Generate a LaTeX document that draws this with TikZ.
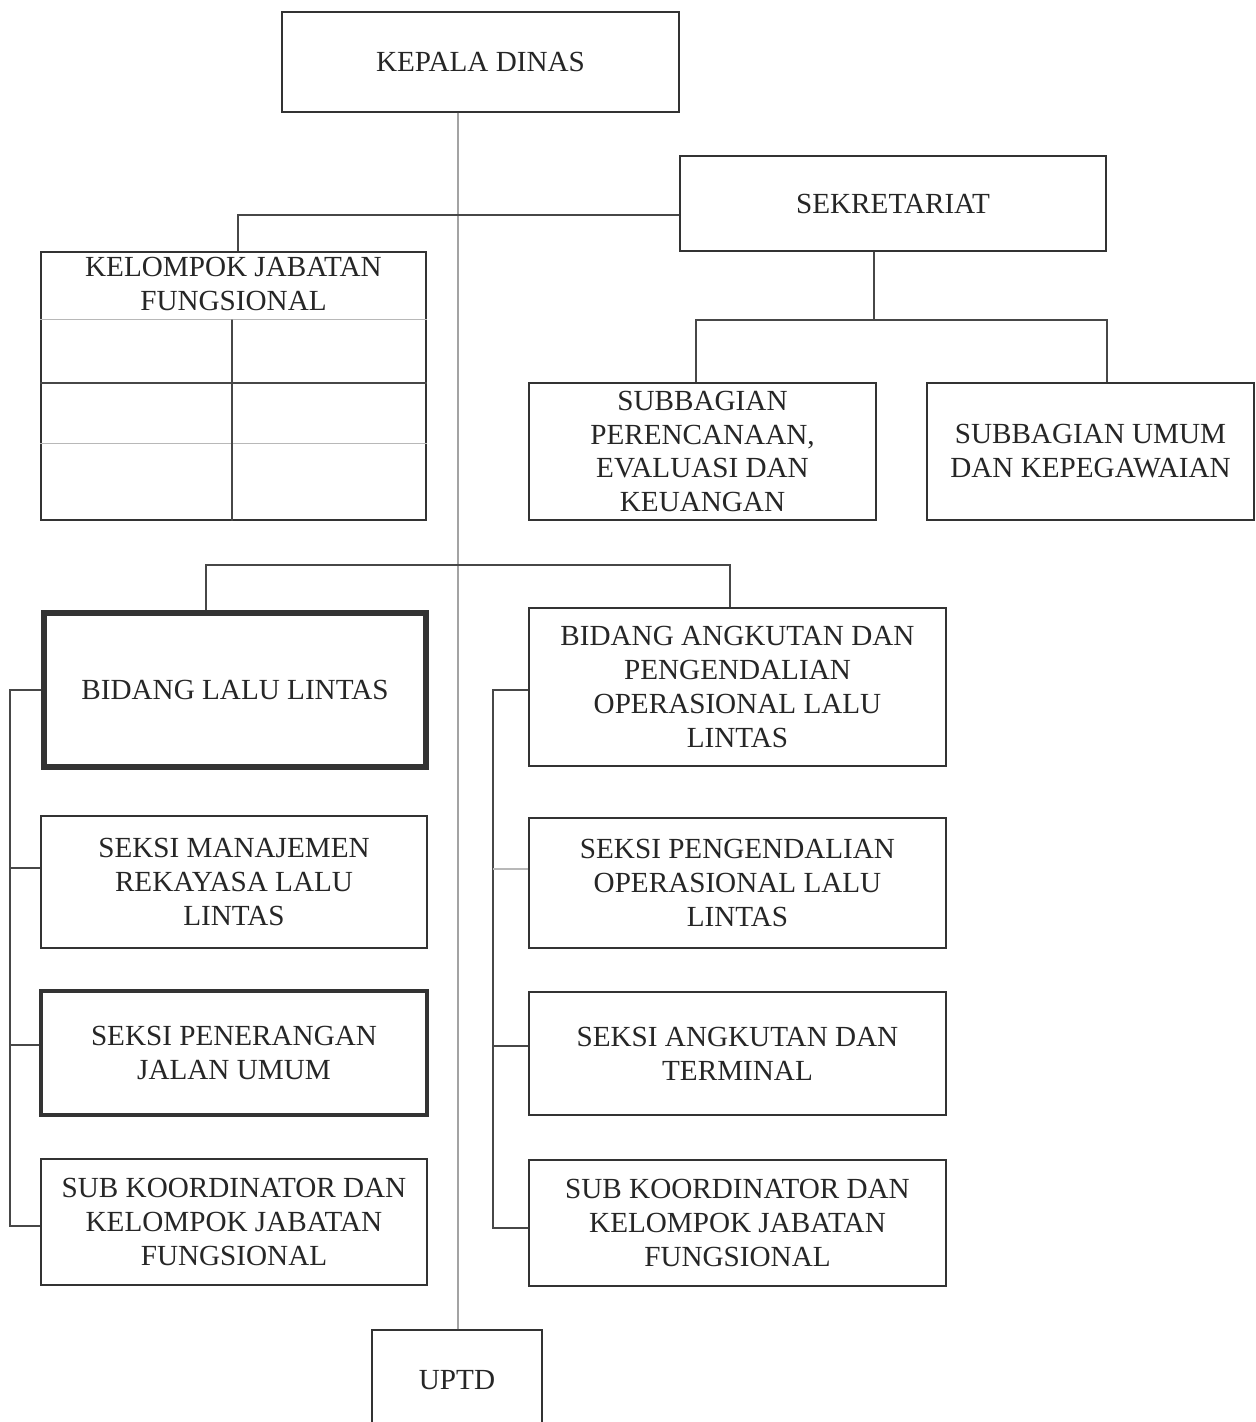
\documentclass[tikz,border=0pt]{standalone}
\usepackage{fontspec}
\setmainfont{Liberation Serif}
\usetikzlibrary{calc}
\begin{document}
\begin{tikzpicture}[x=0.02cm,y=-0.02cm,
  box/.style={draw=black!80, line width=1.1pt, inner sep=0pt, align=center,
    text=black!85, font={\fontsize{16.6pt}{19.3pt}\selectfont}},
  heavybox/.style={box, line width=3.4pt},
  boldbox/.style={box, line width=1.8pt},
  conn/.style={draw=black!72, line width=0.9pt},
  faint/.style={draw=black!28, line width=0.9pt}]
\useasboundingbox (0,0) rectangle (1256,1422);
\clip (0,0) rectangle (1256,1422);
\fill[white] (0,0) rectangle (1256,1422);

% top level
\node[box, minimum width=7.94cm, minimum height=2.0cm] (kd) at (480.5,62) {KEPALA DINAS};
\node[box, minimum width=8.52cm, minimum height=1.9cm] (sek) at (893,203.5) {SEKRETARIAT};

% functional group table
\node[box, minimum width=7.7cm, minimum height=5.36cm] (kjf) at (233.5,386) {};
\node[box, draw=none] (kjft) at ($(kjf.north)+(0,-0.66cm)$) {KELOMPOK JABATAN\\FUNGSIONAL};
\draw[faint] ($(kjf.north west)!0.2537!(kjf.south west)$) -- ($(kjf.north east)!0.2537!(kjf.south east)$);
\draw[conn]  ($(kjf.north west)!0.4888!(kjf.south west)$) -- ($(kjf.north east)!0.4888!(kjf.south east)$);
\draw[faint] ($(kjf.north west)!0.7127!(kjf.south west)$) -- ($(kjf.north east)!0.7127!(kjf.south east)$);
\draw[conn]  ($(kjf.north)!0.2537!(kjf.south)+(-0.03cm,0)$) -- ([xshift=-0.03cm]kjf.south);

% secretariat sub-units
\node[box, minimum width=6.94cm, minimum height=2.74cm] (sp) at (702.5,451.5)
  {SUBBAGIAN\\PERENCANAAN,\\EVALUASI DAN\\KEUANGAN};
\node[box, minimum width=6.54cm, minimum height=2.74cm] (su) at (1090.5,451.5)
  {SUBBAGIAN UMUM\\DAN KEPEGAWAIAN};

% divisions
\node[heavybox, minimum width=7.64cm, minimum height=3.08cm] (bll) at (235,690) {BIDANG LALU LINTAS};
\node[box, minimum width=8.34cm, minimum height=3.16cm] (ba) at (737.5,687)
  {BIDANG ANGKUTAN DAN\\PENGENDALIAN\\OPERASIONAL LALU\\LINTAS};

% sections, left column
\node[box, minimum width=7.72cm, minimum height=2.64cm] (sm) at (234,882)
  {SEKSI MANAJEMEN\\REKAYASA LALU\\LINTAS};
\node[boldbox, minimum width=7.72cm, minimum height=2.48cm] (spj) at (234,1053)
  {SEKSI PENERANGAN\\JALAN UMUM};
\node[box, minimum width=7.72cm, minimum height=2.52cm] (skl) at (234,1222)
  {SUB KOORDINATOR DAN\\KELOMPOK JABATAN\\FUNGSIONAL};

% sections, right column
\node[box, minimum width=8.34cm, minimum height=2.6cm] (spg) at (737.5,883)
  {SEKSI PENGENDALIAN\\OPERASIONAL LALU\\LINTAS};
\node[box, minimum width=8.34cm, minimum height=2.46cm] (sat) at (737.5,1053.5)
  {SEKSI ANGKUTAN DAN\\TERMINAL};
\node[box, minimum width=8.34cm, minimum height=2.52cm] (skr) at (737.5,1223)
  {SUB KOORDINATOR DAN\\KELOMPOK JABATAN\\FUNGSIONAL};

% technical unit
\node[box, minimum width=3.4cm, minimum height=2.0cm] (uptd) at (457,1380) {UPTD};

% main spine
\draw[conn, draw=black!55, line width=0.8pt] ([xshift=-0.45cm]kd.south) -- ([xshift=0.02cm]uptd.north);

% secretariat link to functional group
\draw[conn] ([xshift=0.09cm]kjf.north) |- ([yshift=-0.23cm]sek.west);

% secretariat to its sub-units
\coordinate (sbar) at (874,320);
\draw[conn] ([xshift=-0.38cm]sek.south) -- (sbar);
\draw[conn] ([xshift=-0.13cm]sp.north) |- (sbar) -| ([xshift=0.33cm]su.north);

% division bar
\coordinate (bbar) at (458,565);
\draw[conn] ([xshift=-0.58cm]bll.north) |- (bbar) -| ([xshift=-0.15cm]ba.north);

% left column spine
\coordinate (ls) at (10,690);
\draw[conn] (bll.west) -- (ls) |- ([yshift=-0.08cm]skl.west);
\draw[conn] ([yshift=0.28cm]sm.west) -- ([yshift=0.28cm]sm.west -| ls);
\draw[conn] ([yshift=0.16cm]spj.west) -- ([yshift=0.16cm]spj.west -| ls);

% right column spine
\coordinate (rs) at (493,690);
\draw[conn] ([yshift=-0.06cm]ba.west) -- (rs) |- ([yshift=-0.1cm]skr.west);
\draw[faint] ([yshift=0.28cm]spg.west) -- ([yshift=0.28cm]spg.west -| rs);
\draw[conn] ([yshift=0.15cm]sat.west) -- ([yshift=0.15cm]sat.west -| rs);
\end{tikzpicture}
\end{document}
